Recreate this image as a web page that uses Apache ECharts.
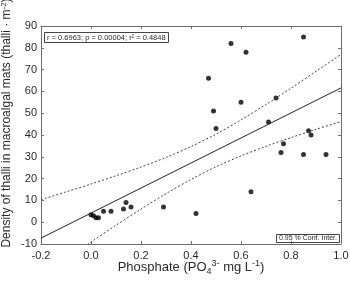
<!DOCTYPE html>
<html>
<head>
<meta charset="utf-8">
<script src="https://cdn.jsdelivr.net/npm/echarts@6/dist/echarts.min.js"></script>
<style>
html,body{margin:0;padding:0;background:#fff;}
#chart{width:350px;height:284px;}
</style>
</head>
<body>
<div id="chart"></div>
<script>
// observations
var phosphate = [0.0, 0.01, 0.02, 0.03, 0.05, 0.08, 0.13, 0.14, 0.16, 0.29, 0.42, 0.47, 0.49, 0.50, 0.56, 0.60, 0.62, 0.64, 0.71, 0.74, 0.76, 0.77, 0.85, 0.85, 0.87, 0.88, 0.94];
var density = [3.4, 3, 2, 2, 5, 5, 6, 9, 7, 7, 4, 66, 51, 43, 82, 55, 78, 14, 46, 57, 32, 36, 85, 31, 42, 40, 31];

// fitted line, read at the plot edges
var fitX = [-0.2, 1.0];
var fitY = [-7.3, 61.6];

// 0.95 confidence band
var bandX = [-0.2, -0.1, 0.0, 0.1, 0.2, 0.3, 0.4, 0.5, 0.6, 0.7, 0.8, 0.9, 1.0];
var bandUpper = [10.3, 13.9, 17.5, 21.3, 25.3, 29.7, 34.7, 40.4, 46.9, 54.0, 61.5, 69.2, 77.0];
var bandLower = [-24.9, -16.9, -9.1, -1.4, 6.0, 13.1, 19.6, 25.4, 30.4, 34.8, 38.8, 42.6, 46.2];

var statText = 'r = 0.6963; p = 0.00004; r\u00b2 = 0.4848';
var legendText = '0.95 % Conf. Inter.';

function pairs(xs, ys) {
    var arr = [];
    for (var i = 0; i < xs.length; i++) {
        arr.push([xs[i], ys[i]]);
    }
    return arr;
}

var frameColor = '#6e6e6e';
var textColor = '#2a2a2a';
var fontFamily = '"Liberation Sans", Arial, sans-serif';

var bandStyle = {color: '#444', width: 1, type: [2, 2]};

var options = {
    animation: false,
    grid: {left: 41, right: 9, top: 26, bottom: 40, containLabel: false, outerBoundsMode: 'none'},
    title: [{
        text: statText,
        left: 44,
        top: 32,
        padding: [2, 3, 1, 3],
        borderColor: '#444',
        borderWidth: 1,
        textStyle: {fontSize: 7.5, fontWeight: 'normal', color: textColor, fontFamily: fontFamily}
    }, {
        text: legendText,
        right: 10,
        top: 234,
        padding: [1, 3, 1, 3],
        borderColor: '#444',
        borderWidth: 1,
        textStyle: {fontSize: 7, fontWeight: 'normal', color: textColor, fontFamily: fontFamily}
    }],
    xAxis: [{
        type: 'value',
        min: -0.2,
        max: 1.0,
        interval: 0.2,
        splitLine: {show: false},
        axisLine: {onZero: false, lineStyle: {color: frameColor, width: 1}},
        axisTick: {inside: true, length: 3, lineStyle: {color: frameColor}},
        axisLabel: {
            color: textColor, fontSize: 11, margin: 6, fontFamily: fontFamily,
            formatter: function (v) { return v.toFixed(1); }
        },
        name: 'Phosphate (PO{sub|4}{sup|3-} mg L{sup|-1})',
        nameLocation: 'middle',
        nameMoveOverlap: false,
        nameGap: 15,
        nameTextStyle: {
            color: textColor, fontSize: 13, fontFamily: fontFamily, lineHeight: 17,
            rich: {
                sup: {fontSize: 9, verticalAlign: 'top', lineHeight: 17, color: textColor, fontFamily: fontFamily},
                sub: {fontSize: 9, verticalAlign: 'bottom', lineHeight: 17, color: textColor, fontFamily: fontFamily}
            }
        }
    }, {
        type: 'value',
        position: 'top',
        min: -0.2,
        max: 1.0,
        interval: 0.2,
        splitLine: {show: false},
        axisLine: {onZero: false, lineStyle: {color: frameColor, width: 1}},
        axisTick: {inside: true, length: 3, lineStyle: {color: frameColor}},
        axisLabel: {show: false}
    }],
    yAxis: [{
        type: 'value',
        min: -10,
        max: 90,
        interval: 10,
        splitLine: {show: false},
        axisLine: {show: true, onZero: false, lineStyle: {color: frameColor, width: 1}},
        axisTick: {show: true, inside: true, length: 3, lineStyle: {color: frameColor}},
        axisLabel: {color: textColor, fontSize: 11, margin: 4, fontFamily: fontFamily},
        name: 'Density of thalli in macroalgal mats (thalli \u00b7 m{sup|-2})',
        nameLocation: 'middle',
        nameMoveOverlap: false,
        nameGap: 27,
        nameTextStyle: {
            color: textColor, fontSize: 12, fontFamily: fontFamily, lineHeight: 14,
            padding: [0, 0, 0, 24],
            rich: {
                sup: {fontSize: 8, verticalAlign: 'top', lineHeight: 14, color: textColor, fontFamily: fontFamily}
            }
        }
    }, {
        type: 'value',
        position: 'right',
        min: -10,
        max: 90,
        interval: 10,
        splitLine: {show: false},
        axisLine: {show: true, onZero: false, lineStyle: {color: frameColor, width: 1}},
        axisTick: {show: true, inside: true, length: 3, lineStyle: {color: frameColor}},
        axisLabel: {show: false}
    }],
    series: [{
        type: 'line',
        data: pairs(bandX, bandUpper),
        showSymbol: false,
        smooth: 0.3,
        clip: true,
        lineStyle: bandStyle
    }, {
        type: 'line',
        data: pairs(bandX, bandLower),
        showSymbol: false,
        smooth: 0.3,
        clip: true,
        lineStyle: bandStyle
    }, {
        type: 'line',
        data: pairs(fitX, fitY),
        showSymbol: false,
        clip: true,
        lineStyle: {color: '#222', width: 1}
    }, {
        type: 'scatter',
        data: pairs(phosphate, density),
        symbol: 'circle',
        symbolSize: 5,
        itemStyle: {color: '#000'}
    }]
};

var chart = echarts.init(document.getElementById('chart'));
chart.setOption(options);
</script>
</body>
</html>
